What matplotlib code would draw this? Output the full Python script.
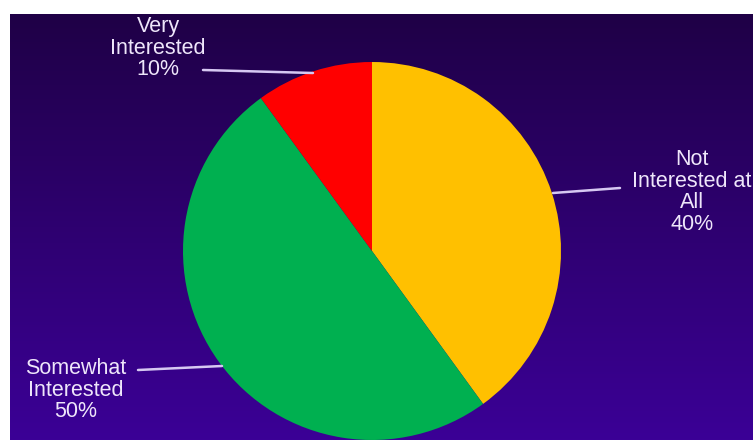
import numpy as np
import matplotlib.pyplot as plt
from matplotlib.colors import LinearSegmentedColormap

# data
labels = ["Not\nInterested at\nAll", "Somewhat\nInterested", "Very\nInterested"]
values = [40, 50, 10]
colors = ["#FFC000", "#00B050", "#FF0000"]

plt.rcParams['font.family'] = ['Liberation Sans', 'DejaVu Sans']

fig = plt.figure(figsize=(7.53, 4.40), dpi=100)
fig.patch.set_facecolor('white')

# purple gradient panel (white strip left and top)
bg = fig.add_axes([10/753., 0, 1 - 10/753., 1 - 14/440.])
grad = LinearSegmentedColormap.from_list('bg', ['#1F0046', '#2E0070', '#3B0096'])
bg.imshow(np.linspace(0, 1, 256).reshape(-1, 1), aspect='auto', cmap=grad,
          extent=[0, 1, 0, 1], origin='upper')
bg.axis('off')

# pie axes in "radius units": center at px (372, 251), r = 189 px
r_px = 189.
cx, cy = 372., 251.
ax = fig.add_axes([0, 0, 1, 1])
ax.patch.set_alpha(0)

ax.pie(values, colors=colors, startangle=90, counterclock=False,
       radius=1.0, center=(0, 0), frame=True,
       wedgeprops=dict(linewidth=0))
ax.set_xlim(-cx / r_px, (753 - cx) / r_px)
ax.set_ylim(-(440 - cy) / r_px, cy / r_px)
ax.set_aspect('auto')
ax.axis('off')

def p(x, y):
    # pixel (from top-left) -> data
    return (x - cx) / r_px, (cy - y) / r_px

txtcol = '#EEE6FA'
linecol = '#D6C8F2'

# label texts
texts = [lab + "\n%d%%" % v for lab, v in zip(labels, values)]
text_px = [(692, 192), (76, 390), (158, 48)]
for t, (x, y) in zip(texts, text_px):
    tx, ty = p(x, y)
    ax.text(tx, ty, t, ha='center', va='center', color=txtcol,
            fontsize=15.5, linespacing=1.05)

# leader lines
lines_px = [[(553, 193), (620, 188)],
            [(138, 370), (222, 366)],
            [(203, 70), (313, 73)]]
for (x1, y1), (x2, y2) in lines_px:
    a, b = p(x1, y1)
    c, d = p(x2, y2)
    ax.plot([a, c], [b, d], color=linecol, lw=1.8, solid_capstyle='round')

plt.savefig('out.png', dpi=100)
